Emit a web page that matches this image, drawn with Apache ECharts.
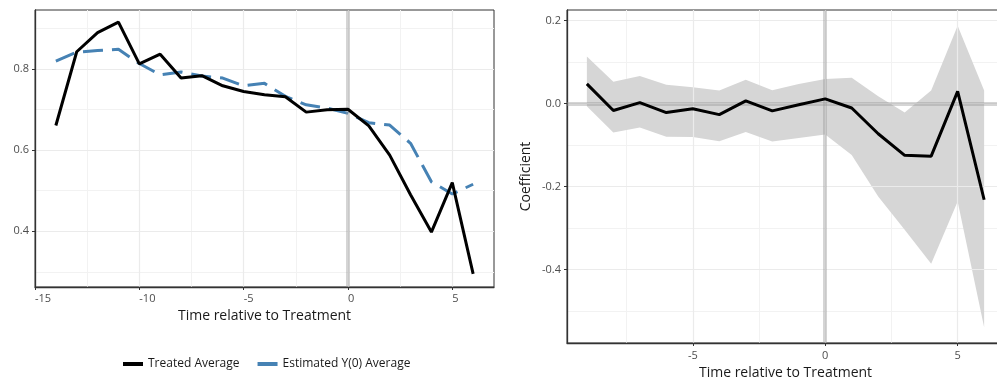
<!DOCTYPE html>
<html><head><meta charset="utf-8">
<script src="https://cdn.jsdelivr.net/npm/echarts@6/dist/echarts.min.js"></script>
<style>html,body{margin:0;padding:0;background:#fff}#c{width:997px;height:383px}</style>
</head><body><div id="c"></div>
<script>
// Left panel: averages over time relative to treatment
const leftTimes = [-14,-13,-12,-11,-10,-9,-8,-7,-6,-5,-4,-3,-2,-1,0,1,2,3,4,5,6];
const treatedAverage = [0.661,0.843,0.890,0.916,0.813,0.837,0.778,0.784,0.759,0.745,0.737,0.732,0.694,0.700,0.701,0.660,0.588,0.490,0.398,0.520,0.295];
const estimatedY0Average = [0.820,0.842,0.846,0.849,0.814,0.786,0.793,0.783,0.778,0.759,0.765,0.733,0.712,0.704,0.691,0.668,0.662,0.617,0.522,0.492,0.516];
// Right panel: event-study coefficients with confidence band
const rightTimes = [-9,-8,-7,-6,-5,-4,-3,-2,-1,0,1,2,3,4,5,6];
const coefficient = [0.047,-0.017,0.002,-0.022,-0.013,-0.027,0.006,-0.018,-0.003,0.011,-0.011,-0.073,-0.125,-0.127,0.029,-0.232];
const ciUpper = [0.113,0.052,0.066,0.045,0.039,0.031,0.057,0.032,0.047,0.059,0.062,0.017,-0.022,0.031,0.187,0.031];
const ciLower = [-0.007,-0.070,-0.058,-0.080,-0.081,-0.091,-0.069,-0.092,-0.083,-0.075,-0.124,-0.224,-0.304,-0.386,-0.236,-0.539];
// Axis extents and tick values
const leftXRange = [-15, 7];
const leftXTicks = [-15, -10, -5, 0, 5];
const leftXMinor = [-12.5, -7.5, -2.5, 2.5];
const leftYRange = [0.2625, 0.946];
const leftYTicks = [0.4, 0.6, 0.8];
const leftYMinor = [0.3, 0.5, 0.7, 0.9];
const rightXRange = [-9.75, 6.75];
const rightXTicks = [-5, 0, 5];
const rightXMinor = [-7.5, -2.5, 2.5];
const rightYRange = [-0.577, 0.225];
const rightYTicks = [-0.4, -0.2, 0.0, 0.2];
const rightYMinor = [-0.5, -0.3, -0.1, 0.1];
const referenceX = 0;
const referenceY = 0;
const labelX = 'Time relative to Treatment';
const labelY = 'Coefficient';
const seriesNames = ['Treated Average', 'Estimated Y(0) Average'];

const FONT = '"Open Sans", "Noto Sans", sans-serif';
const pairs = (xs, ys) => xs.map((x, i) => [x, ys[i]]);

function mainAxis(range, ticks, grid, isX, extra) {
  const ax = {
    type: 'value', gridIndex: grid, min: range[0], max: range[1],
    axisLine: {show: true, onZero: false, lineStyle: {color: '#333', width: 1.3}},
    axisTick: {show: true, length: 3, customValues: ticks, lineStyle: {color: '#333', width: 1}},
    axisLabel: {color: '#4d4d4d', fontSize: 11, fontFamily: FONT, margin: isX ? 7 : 6, customValues: ticks,
      formatter: v => isX ? String(v) : v.toFixed(1)},
    splitLine: {show: true, lineStyle: {color: '#ebebeb', width: 1.2}},
    z: 3
  };
  if (extra) {
    for (const k in extra) {
      if (typeof extra[k] === 'object' && ax[k]) Object.assign(ax[k], extra[k]); else ax[k] = extra[k];
    }
  }
  return ax;
}
function minorAxis(range, ticks, grid) {
  return {
    type: 'value', gridIndex: grid, min: range[0], max: range[1],
    axisLine: {show: false},
    axisTick: {show: false, customValues: ticks},
    axisLabel: {show: false, customValues: ticks},
    splitLine: {show: true, lineStyle: {color: '#f2f2f2', width: 1}}, z: 1
  };
}
const nameStyle = {fontSize: 14, color: '#1a1a1a', fontFamily: FONT};
const refLine = {color: 'rgba(150,150,150,0.4)', width: 4, type: 'solid'};

const option = {
  animation: false,
  backgroundColor: '#fff',
  textStyle: {fontFamily: FONT},
  grid: [
    {left: 35, top: 10, width: 459, height: 277, show: true, borderColor: '#333', borderWidth: 1,
      backgroundColor: 'transparent', outerBoundsMode: 'none', containLabel: false},
    {left: 567, top: 10, width: 437, height: 333, show: true, borderColor: '#333', borderWidth: 1,
      backgroundColor: 'transparent', outerBoundsMode: 'none', containLabel: false}
  ],
  xAxis: [
    mainAxis(leftXRange, leftXTicks, 0, true, {name: labelX, nameLocation: 'middle', nameGap: 21, nameTextStyle: nameStyle,
      axisLabel: {align: 'left', margin: 6}}),
    minorAxis(leftXRange, leftXMinor, 0),
    mainAxis(rightXRange, rightXTicks, 1, true, {name: labelX, nameLocation: 'middle', nameGap: 23, nameTextStyle: nameStyle}),
    minorAxis(rightXRange, rightXMinor, 1)
  ],
  yAxis: [
    mainAxis(leftYRange, leftYTicks, 0, false),
    minorAxis(leftYRange, leftYMinor, 0),
    mainAxis(rightYRange, rightYTicks, 1, false, {name: labelY, nameLocation: 'middle', nameGap: 34, nameTextStyle: nameStyle}),
    minorAxis(rightYRange, rightYMinor, 1)
  ],
  legend: {
    left: 118, top: 353, itemWidth: 20, itemHeight: 4, itemGap: 18, icon: 'rect',
    textStyle: {fontSize: 12, color: '#1a1a1a', fontFamily: FONT},
    data: seriesNames
  },
  series: [
    {name: 'refLeft', type: 'line', xAxisIndex: 0, yAxisIndex: 0, data: [], z: 3,
      markLine: {silent: true, symbol: 'none', label: {show: false}, lineStyle: refLine, data: [{xAxis: referenceX}]}},
    {name: seriesNames[1], type: 'line', xAxisIndex: 0, yAxisIndex: 0, data: pairs(leftTimes, estimatedY0Average),
      showSymbol: false, color: '#4682b4', lineStyle: {color: '#4682b4', width: 3, type: [20, 9]}, z: 4},
    {name: seriesNames[0], type: 'line', xAxisIndex: 0, yAxisIndex: 0, data: pairs(leftTimes, treatedAverage),
      showSymbol: false, color: '#000', lineStyle: {color: '#000', width: 3}, z: 5},
    {name: 'ciBand', type: 'custom', xAxisIndex: 2, yAxisIndex: 2,
      data: rightTimes.map((x, i) => [x, ciLower[i], ciUpper[i]]),
      encode: {x: 0, y: [1, 2]}, z: 2,
      renderItem: (params, api) => {
        if (params.dataIndex !== 0) return null;
        const up = rightTimes.map((x, i) => api.coord([x, ciUpper[i]]));
        const lo = rightTimes.map((x, i) => api.coord([x, ciLower[i]])).reverse();
        return {type: 'polygon', shape: {points: up.concat(lo)}, style: {fill: '#d6d6d6'}};
      }},
    {name: 'refRight', type: 'line', xAxisIndex: 2, yAxisIndex: 2, data: [], z: 3,
      markLine: {silent: true, symbol: 'none', label: {show: false}, lineStyle: refLine,
        data: [{xAxis: referenceX}, {yAxis: referenceY}]}},
    {name: 'Coefficient', type: 'line', xAxisIndex: 2, yAxisIndex: 2, data: pairs(rightTimes, coefficient),
      showSymbol: false, color: '#000', lineStyle: {color: '#000', width: 3}, z: 5}
  ]
};
const chart = echarts.init(document.getElementById('c'), null, {renderer: 'canvas'});
chart.setOption(option);
</script></body></html>
